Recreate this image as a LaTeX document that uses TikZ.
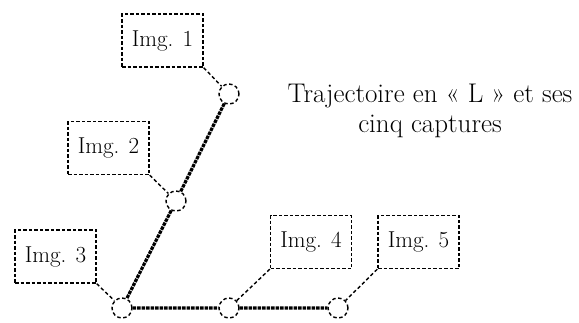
\documentclass[tikz,border=0pt]{standalone}
\usepackage{tikz}
\usetikzlibrary{positioning}
\colorlet{trajink}{black}

\begin{document}
\begin{tikzpicture}[x=1pt, y=-1pt,
    capture/.style={circle, draw=trajink, line width=1.4pt,
      dash pattern=on 3.5pt off 2.5pt, minimum size=20pt, inner sep=0pt},
    imgbox/.style={rectangle, draw=trajink, line width=1.4pt,
      dash pattern=on 3.5pt off 2pt, minimum width=81pt, minimum height=53pt,
      inner sep=0pt, font=\fontsize{23}{28}\selectfont},
    link/.style={draw=trajink, line width=1.4pt, dash pattern=on 3.5pt off 2.5pt},
    path/.style={draw=trajink, line width=3.2pt, dash pattern=on 3.5pt off 1pt}]
  \useasboundingbox (0,0) rectangle (579,322);
  % the five capture points along the L-shaped trajectory
  \node[capture] (c1) at (229,94) {};
  \node[capture] (c2) at (176,201) {};
  \node[capture] (c3) at (122,308) {};
  \node[capture] (c4) at (229,308) {};
  \node[capture] (c5) at (338,308) {};
  % image labels
  \node[imgbox] (i1) at (162.5,40.5) {Img. 1};
  \node[imgbox] (i2) at (108.5,148) {Img. 2};
  \node[imgbox] (i3) at (55.5,256.5) {Img. 3};
  \node[imgbox] (i4) at (311,242) {Img. 4};
  \node[imgbox] (i5) at (418.5,242) {Img. 5};
  % trajectory
  \path[path] (c1) -- (c2) -- (c3) -- (c4) -- (c5);
  % label to capture
  \path[link] (i1.south east) -- (c1);
  \path[link] (i2.south east) -- (c2);
  \path[link] (i3.south east) -- (c3);
  \path[link] (i4.south west) -- (c4);
  \path[link] (i5.south west) -- (c5);
  \node[align=center, font=\fontsize{27}{30}\selectfont] (title) at (430,111)
    {Trajectoire en « L » et ses\\cinq captures};
\end{tikzpicture}
\end{document}
